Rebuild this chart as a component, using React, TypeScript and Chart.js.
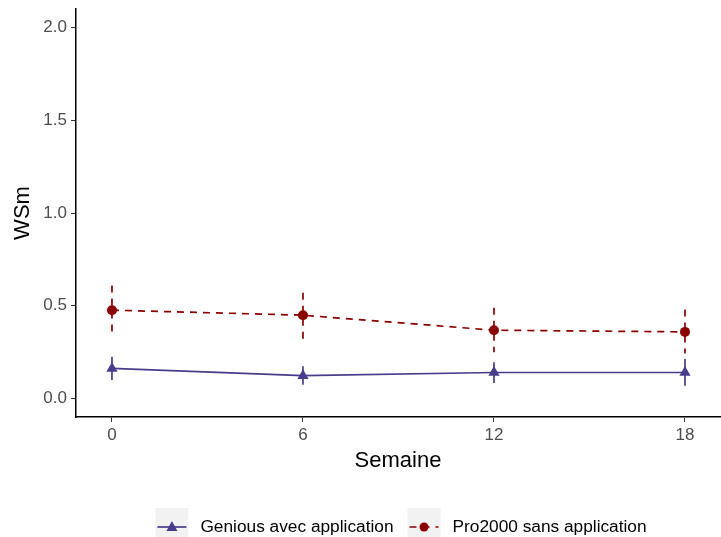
import React, { useEffect, useRef } from "react";
import { Chart, registerables } from "chart.js";
Chart.register(...registerables);

const weeks = [0, 6, 12, 18];
const geniousMean = [0.162, 0.123, 0.14, 0.14];
const geniousLow = [0.1, 0.074, 0.083, 0.069];
const geniousHigh = [0.225, 0.173, 0.195, 0.213];
const proMean = [0.476, 0.449, 0.368, 0.359];
const proLow = [0.344, 0.317, 0.249, 0.242];
const proHigh = [0.609, 0.57, 0.489, 0.479];
const xTicks = [0, 6, 12, 18];
const yTicks = [0, 0.5, 1.0, 1.5, 2.0];
const seriesNames = ["Genious avec application", "Pro2000 sans application"];
const xTitle = "Semaine";
const yTitle = "WSm";

const BLUE = "#483D8B";
const RED = "#8B0000";
const FONT = "'Liberation Sans', Arial, sans-serif";
const DASH = [7, 6];

const errLow = [geniousLow, proLow];
const errHigh = [geniousHigh, proHigh];
const colors = [BLUE, RED];
const dashes = [[], DASH];
const styles = ["triangle", "circle"];

const errorBarPlugin = {
  id: "errorBars",
  beforeDatasetsDraw(chart: any) {
    const ctx = chart.ctx;
    const xs = chart.scales.x;
    const ys = chart.scales.y;
    ctx.save();
    for (let d = 0; d < 2; d++) {
      ctx.strokeStyle = colors[d];
      ctx.lineWidth = 1.7;
      ctx.setLineDash(dashes[d]);
      for (let i = 0; i < weeks.length; i++) {
        const x = xs.getPixelForValue(weeks[i]);
        ctx.beginPath();
        ctx.moveTo(x, ys.getPixelForValue(errHigh[d][i]));
        ctx.lineTo(x, ys.getPixelForValue(errLow[d][i]));
        ctx.stroke();
      }
    }
    ctx.restore();
  },
};

const legendPlugin = {
  id: "ggLegend",
  afterDraw(chart: any) {
    const ctx = chart.ctx;
    ctx.save();
    ctx.font = `17.3px ${FONT}`;
    const keyW = 33;
    const gapText = 12;
    const gapEntry = 14;
    const widths = seriesNames.map((s) => ctx.measureText(s).width);
    const total = widths.reduce((a, w) => a + keyW + gapText + w, 0) + gapEntry;
    const center = (chart.chartArea.left + chart.chartArea.right) / 2 + 3;
    let x = center - total / 2;
    const keyTop = chart.height - 29;
    const midY = keyTop + 19;
    for (let d = 0; d < 2; d++) {
      ctx.fillStyle = "#F2F2F2";
      ctx.fillRect(x, keyTop, keyW, 38);
      ctx.strokeStyle = colors[d];
      ctx.lineWidth = 1.7;
      ctx.setLineDash(dashes[d]);
      ctx.beginPath();
      ctx.moveTo(x + 2, midY);
      ctx.lineTo(x + keyW - 2, midY);
      ctx.stroke();
      ctx.setLineDash([]);
      ctx.fillStyle = colors[d];
      ctx.beginPath();
      if (styles[d] === "circle") {
        ctx.arc(x + keyW / 2, midY, 4.5, 0, Math.PI * 2);
      } else {
        const cx = x + keyW / 2;
        ctx.moveTo(cx, midY - 6);
        ctx.lineTo(cx + 5.5, midY + 4);
        ctx.lineTo(cx - 5.5, midY + 4);
        ctx.closePath();
      }
      ctx.fill();
      ctx.fillStyle = "#000";
      ctx.textBaseline = "middle";
      ctx.textAlign = "left";
      ctx.fillText(seriesNames[d], x + keyW + gapText, midY);
      x += keyW + gapText + widths[d] + gapEntry;
    }
    ctx.restore();
  },
};

export default function App() {
  const ref = useRef<HTMLCanvasElement>(null);
  useEffect(() => {
    if (!ref.current) return;
    const chart = new Chart(ref.current, {
      type: "line",
      data: {
        datasets: [
          {
            label: seriesNames[0],
            data: weeks.map((w, i) => ({ x: w, y: geniousMean[i] })),
            borderColor: BLUE,
            backgroundColor: BLUE,
            borderWidth: 1.7,
            pointStyle: "triangle",
            pointRadius: 6.5,
            pointBorderWidth: 0,
          },
          {
            label: seriesNames[1],
            data: weeks.map((w, i) => ({ x: w, y: proMean[i] })),
            borderColor: RED,
            backgroundColor: RED,
            borderWidth: 1.7,
            borderDash: DASH,
            pointStyle: "circle",
            pointRadius: 5,
            pointBorderWidth: 0,
          },
        ],
      },
      options: {
        animation: false,
        responsive: false,
        layout: { autoPadding: false, padding: { top: 9, right: 1, left: 0, bottom: 63 } },
        plugins: { legend: { display: false }, tooltip: { enabled: false } },
        scales: {
          x: {
            type: "linear",
            min: -1.13,
            max: 19.1,
            afterBuildTicks: (s: any) => {
              s.ticks = xTicks.map((v) => ({ value: v }));
            },
            afterFit: (s: any) => {
              s.height = 57;
              s.paddingLeft = 0;
              s.paddingRight = 0;
            },
            ticks: {
              color: "#4D4D4D",
              font: { size: 17, family: FONT },
              padding: 3,
              maxRotation: 0,
              callback: (v: any) => String(v),
            },
            grid: { drawOnChartArea: false, drawTicks: true, tickLength: 5, color: "#333", lineWidth: 1 },
            border: { display: true, color: "#000", width: 1.5 },
            title: { display: true, text: xTitle, color: "#000", font: { size: 22, family: FONT }, padding: { top: 0, bottom: 0 } },
          },
          y: {
            type: "linear",
            min: -0.1,
            max: 2.1,
            afterBuildTicks: (s: any) => {
              s.ticks = yTicks.map((v) => ({ value: v }));
            },
            afterFit: (s: any) => {
              s.width = 76;
              s.paddingTop = 0;
              s.paddingBottom = 0;
            },
            ticks: {
              color: "#4D4D4D",
              font: { size: 17, family: FONT },
              padding: 4,
              callback: (v: any) => Number(v).toFixed(1),
            },
            grid: { drawOnChartArea: false, drawTicks: true, tickLength: 5, color: "#333", lineWidth: 1 },
            border: { display: true, color: "#000", width: 1.5 },
            title: { display: true, text: yTitle, color: "#000", font: { size: 22, family: FONT }, padding: { top: 10, bottom: 0 } },
          },
        },
      },
      plugins: [errorBarPlugin, legendPlugin],
    } as any);
    return () => chart.destroy();
  }, []);
  return (
    <div style={{ position: "absolute", left: 0, top: 0, width: 721, height: 537, background: "#fff" }}>
      <canvas ref={ref} width={721} height={537} />
    </div>
  );
}
